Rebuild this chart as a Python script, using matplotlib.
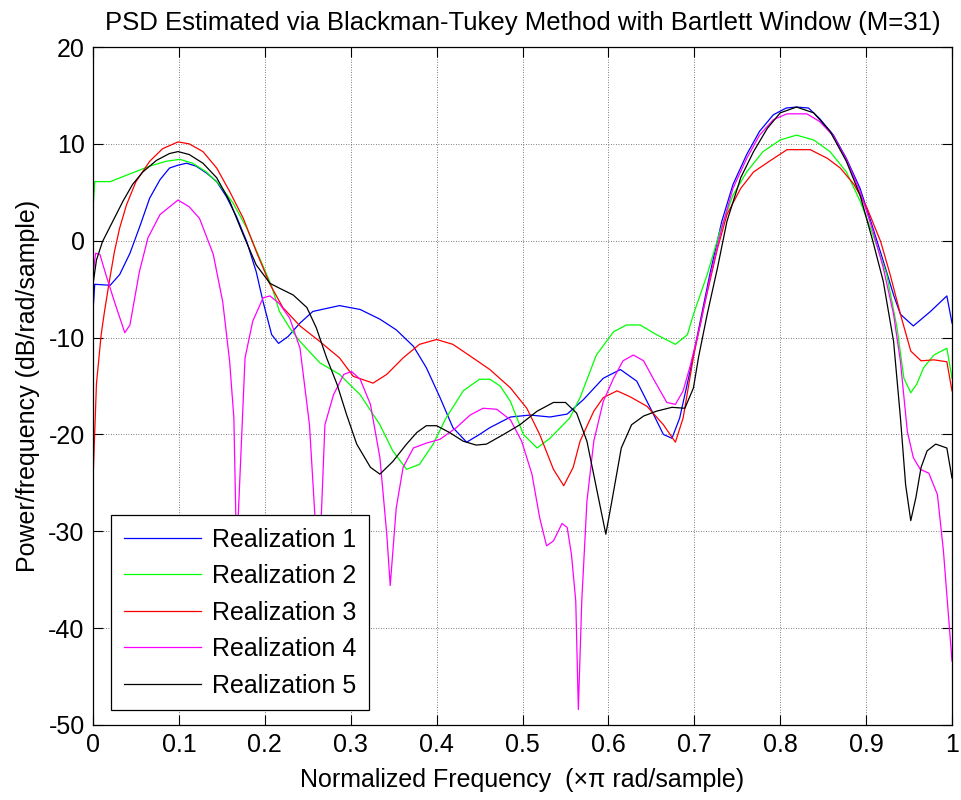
import matplotlib
matplotlib.use("Agg")
import matplotlib.pyplot as plt

# ---- data (normalized frequency, PSD in dB/rad/sample) ----
f1 = [0, 0.002, 0.02, 0.031, 0.043, 0.055, 0.066, 0.078, 0.089, 0.099, 0.109, 0.120, 0.132, 0.144,
      0.155, 0.167, 0.179, 0.190, 0.198, 0.208, 0.216, 0.227, 0.241, 0.256, 0.287, 0.311, 0.334,
      0.353, 0.373, 0.388, 0.404, 0.419, 0.435, 0.45, 0.462, 0.486, 0.509, 0.532, 0.552, 0.571,
      0.594, 0.614, 0.633, 0.649, 0.664, 0.674, 0.683, 0.695, 0.707, 0.718, 0.732, 0.745, 0.761,
      0.776, 0.792, 0.807, 0.819, 0.833, 0.846, 0.862, 0.877, 0.893, 0.908, 0.920, 0.932, 0.940,
      0.955, 0.975, 0.994, 1.0]
p1 = [-7.3, -4.5, -4.6, -3.5, -1.3, 1.6, 4.4, 6.3, 7.5, 7.8, 8.0, 7.7, 7.0, 6.1,
      4.6, 2.5, -0.1, -3.2, -6.3, -9.7, -10.6, -9.9, -8.5, -7.3, -6.7, -7.1, -8.1,
      -9.2, -10.9, -13.1, -16.2, -19.3, -20.8, -20.0, -19.3, -18.2, -18.0, -18.2, -17.9, -16.4,
      -14.2, -13.3, -14.5, -17.3, -20.0, -20.4, -18.3, -13.5, -8.3, -3.5, 2.0, 5.8, 8.9,
      11.3, 13.0, 13.7, 13.8, 13.7, 12.6, 10.9, 8.5, 5.4, 1.3, -2.1, -5.6, -7.6,
      -8.8, -7.3, -5.7, -8.5]

f2 = [0, 0.002, 0.02, 0.043, 0.066, 0.085, 0.101, 0.116, 0.132, 0.147, 0.163, 0.179, 0.194, 0.208,
      0.217, 0.229, 0.241, 0.264, 0.287, 0.311, 0.334, 0.349, 0.365, 0.380, 0.396, 0.411, 0.431,
      0.45, 0.462, 0.474, 0.486, 0.501, 0.517, 0.532, 0.555, 0.567, 0.586, 0.606, 0.621, 0.637,
      0.656, 0.678, 0.692, 0.699, 0.715, 0.730, 0.745, 0.761, 0.780, 0.800, 0.819, 0.839, 0.858,
      0.877, 0.893, 0.908, 0.924, 0.936, 0.944, 0.952, 0.959, 0.967, 0.979, 0.994, 1.0]
p2 = [3.2, 6.1, 6.1, 6.9, 7.7, 8.2, 8.4, 8.0, 7.1, 5.8, 3.9, 1.3, -1.8, -4.7,
      -7.3, -9.0, -10.4, -12.6, -13.8, -15.9, -19.0, -21.7, -23.6, -23.1, -21.0, -18.3, -15.5,
      -14.3, -14.3, -15.0, -16.6, -20.0, -21.4, -20.4, -18.3, -16.2, -11.8, -9.4, -8.7, -8.7,
      -9.7, -10.7, -9.7, -7.6, -3.5, 1.0, 4.7, 7.1, 9.2, 10.4, 10.9, 10.4, 9.2,
      7.1, 4.1, 0.6, -3.5, -9.0, -14.2, -15.7, -14.8, -13.1, -11.8, -11.1, -14.2]

f3 = [0, 0.004, 0.0095, 0.0134, 0.019, 0.025, 0.031, 0.039, 0.050, 0.066, 0.081, 0.099, 0.112,
      0.128, 0.144, 0.159, 0.175, 0.190, 0.206, 0.221, 0.241, 0.264, 0.287, 0.303, 0.326, 0.342,
      0.361, 0.380, 0.400, 0.419, 0.439, 0.462, 0.486, 0.505, 0.520, 0.536, 0.548, 0.559, 0.567,
      0.583, 0.594, 0.610, 0.625, 0.645, 0.664, 0.678, 0.687, 0.699, 0.711, 0.727, 0.738, 0.754,
      0.769, 0.789, 0.808, 0.835, 0.855, 0.870, 0.886, 0.901, 0.917, 0.928, 0.940, 0.952, 0.964,
      0.979, 0.994, 1.0]
p3 = [-24.8, -14.8, -9.7, -7.3, -4.2, -1.1, 1.3, 3.7, 6.1, 8.2, 9.5, 10.2, 10.0,
      9.2, 7.5, 5.1, 2.3, -1.1, -4.5, -6.9, -8.8, -10.4, -12.1, -14.0, -14.7, -13.8,
      -12.1, -10.7, -10.2, -10.7, -11.9, -13.3, -15.2, -17.3, -20.0, -23.6, -25.3, -23.4, -20.7,
      -17.6, -16.2, -15.5, -16.1, -17.1, -19.0, -20.8, -18.3, -12.0, -6.9, -0.8, 2.7, 5.4,
      7.1, 8.3, 9.4, 9.4, 8.5, 7.5, 5.8, 3.4, -0.1, -3.5, -7.6, -11.4, -12.4,
      -12.3, -12.5, -15.5]

f4 = [0, 0.003, 0.008, 0.015, 0.025, 0.037, 0.043, 0.054, 0.064, 0.078, 0.099, 0.112, 0.124,
      0.140, 0.151, 0.159, 0.164, 0.1675, 0.169, 0.177, 0.186, 0.198, 0.206, 0.217, 0.229, 0.241,
      0.252, 0.258, 0.262, 0.266, 0.270, 0.280, 0.292, 0.301, 0.311, 0.323, 0.334, 0.342, 0.346,
      0.353, 0.361, 0.373, 0.388, 0.404, 0.423, 0.439, 0.454, 0.470, 0.486, 0.499, 0.511, 0.520,
      0.528, 0.536, 0.546, 0.552, 0.557, 0.562, 0.565, 0.569, 0.575, 0.583, 0.594, 0.606, 0.617,
      0.629, 0.641, 0.652, 0.668, 0.678, 0.687, 0.695, 0.707, 0.718, 0.732, 0.745, 0.761, 0.776,
      0.792, 0.808, 0.831, 0.846, 0.862, 0.877, 0.893, 0.908, 0.920, 0.932, 0.940, 0.948, 0.955,
      0.963, 0.973, 0.983, 0.990, 1.0]
p4 = [-3.5, -1.3, -1.4, -3.5, -6.3, -9.5, -8.7, -3.2, 0.3, 2.7, 4.2, 3.5, 2.3,
      -1.4, -6.3, -12.4, -18.3, -34.0, -28.6, -12.1, -8.3, -5.9, -5.7, -6.5, -8.0, -11.1,
      -19.0, -27.9, -34.0, -27.9, -19.0, -15.9, -13.8, -13.5, -14.3, -16.9, -22.4, -30.3, -35.6,
      -27.6, -23.4, -21.4, -20.9, -20.5, -19.3, -18.0, -17.3, -17.4, -18.5, -20.7, -24.1, -28.6,
      -31.5, -31.0, -29.2, -29.6, -32.4, -37.2, -48.4, -37.2, -26.9, -20.7, -16.6, -14.2, -12.4,
      -11.8, -12.4, -14.2, -16.7, -16.9, -15.5, -13.0, -8.7, -3.9, 1.3, 5.4, 8.5, 10.9,
      12.5, 13.1, 13.1, 12.3, 10.8, 8.4, 5.1, 1.0, -2.8, -7.6, -12.5, -19.7, -22.4,
      -23.6, -24.0, -26.2, -32.0, -43.4]

f5 = [0, 0.004, 0.011, 0.023, 0.035, 0.046, 0.058, 0.074, 0.089, 0.099, 0.112, 0.128, 0.144,
      0.159, 0.175, 0.190, 0.206, 0.217, 0.233, 0.249, 0.260, 0.272, 0.284, 0.295, 0.307, 0.323,
      0.334, 0.349, 0.365, 0.377, 0.388, 0.400, 0.415, 0.431, 0.446, 0.458, 0.478, 0.497, 0.517,
      0.536, 0.550, 0.563, 0.575, 0.586, 0.597, 0.604, 0.615, 0.627, 0.641, 0.656, 0.674, 0.689,
      0.699, 0.705, 0.715, 0.727, 0.738, 0.754, 0.769, 0.785, 0.800, 0.819, 0.839, 0.858, 0.877,
      0.893, 0.908, 0.920, 0.932, 0.940, 0.946, 0.952, 0.958, 0.964, 0.971, 0.981, 0.994, 1.0]
p5 = [-4.5, -2.0, -0.1, 2.0, 4.1, 5.8, 7.1, 8.3, 9.0, 9.2, 8.9, 8.0, 6.5,
      4.1, 0.6, -2.5, -4.4, -4.9, -5.6, -6.9, -9.0, -12.1, -14.8, -17.9, -21.0, -23.4,
      -24.1, -22.8, -21.0, -19.8, -19.1, -19.1, -19.8, -20.7, -21.1, -21.0, -20.0, -19.0, -17.6,
      -16.7, -16.7, -17.8, -20.7, -25.5, -30.3, -26.9, -21.4, -19.0, -18.1, -17.6, -17.2, -17.3,
      -15.2, -12.0, -7.6, -2.8, 2.0, 6.5, 9.2, 11.6, 13.2, 13.8, 13.2, 11.3, 8.2,
      4.7, -0.1, -4.2, -10.4, -18.3, -25.2, -28.9, -26.5, -23.4, -21.7, -21.0, -21.4, -24.5]

labels = ["Realization 1", "Realization 2", "Realization 3", "Realization 4", "Realization 5"]
colors = ["#0000ff", "#00ff00", "#ff0000", "#ff00ff", "#000000"]
xticks = [0, 0.1, 0.2, 0.3, 0.4, 0.5, 0.6, 0.7, 0.8, 0.9, 1]
xticklabels = ["0", "0.1", "0.2", "0.3", "0.4", "0.5", "0.6", "0.7", "0.8", "0.9", "1"]
yticks = [-50, -40, -30, -20, -10, 0, 10, 20]

plt.rcParams['font.family'] = ['Liberation Sans', 'DejaVu Sans']
plt.rcParams['font.size'] = 18
plt.rcParams['axes.unicode_minus'] = False

fig = plt.figure(figsize=(9.62, 8.0), dpi=100)
ax = fig.add_axes([93 / 962, 1 - 725 / 800, (952 - 93) / 962, (725 - 47) / 800])

for fx, px, lab, c in zip([f1, f2, f3, f4, f5], [p1, p2, p3, p4, p5], labels, colors):
    ax.plot(fx, px, color=c, lw=0.9, label=lab)

ax.set_xlim(0, 1)
ax.set_ylim(-50, 20)
ax.set_xticks(xticks)
ax.set_xticklabels(xticklabels)
ax.set_yticks(yticks)
ax.grid(True, color='#555555', linestyle=(0, (1, 2)), linewidth=0.6)
ax.tick_params(direction='in', length=7, width=0.8, top=True, right=True, labelsize=18, pad=6)
for s in ax.spines.values():
    s.set_linewidth(0.9)

ax.set_title("PSD Estimated via Blackman-Tukey Method with Bartlett Window (M=31)", fontsize=18.5, pad=12)
ax.set_xlabel("Normalized Frequency  (\u00d7\u03c0 rad/sample)", fontsize=18, labelpad=8)
ax.set_ylabel("Power/frequency (dB/rad/sample)", fontsize=18, labelpad=6)

leg = ax.legend(loc='lower left', bbox_to_anchor=(0.021, 0.022), borderaxespad=0,
                fancybox=False, edgecolor='black', framealpha=1, fontsize=18,
                handlelength=3.1, handletextpad=0.45, labelspacing=0.5, borderpad=0.5)
leg.get_frame().set_linewidth(0.9)

fig.savefig("out.png", dpi=100)
